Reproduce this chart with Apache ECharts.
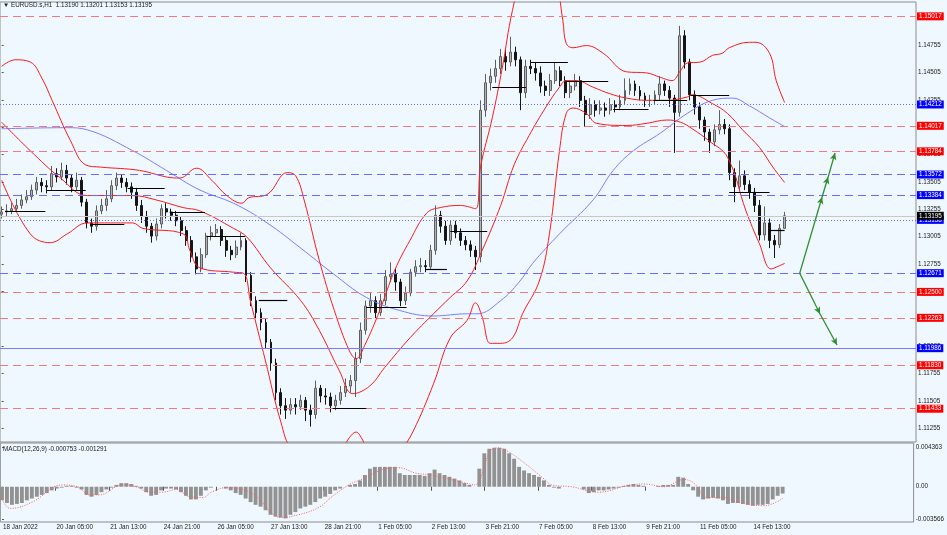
<!DOCTYPE html>
<html><head><meta charset="utf-8">
<script src="https://cdn.jsdelivr.net/npm/echarts@6/dist/echarts.min.js"></script>
<style>html,body{margin:0;padding:0;background:#f0f8ff;}#c{width:947px;height:535px;}</style>
</head><body><div id="c"></div>
<script>
// ---- x axis: hourly bar index, labels every 32 bars ----
const xTickLabels = ['18 Jan 2022','20 Jan 05:00','21 Jan 13:00','24 Jan 21:00','26 Jan 05:00','27 Jan 13:00','28 Jan 21:00','1 Feb 05:00','2 Feb 13:00','3 Feb 21:00','7 Feb 05:00','8 Feb 13:00','9 Feb 21:00','11 Feb 05:00','14 Feb 13:00'];
const yTickLabels = [1.14755,1.14505,1.14255,1.14005,1.13755,1.13505,1.13255,1.13005,1.12755,1.12505,1.12255,1.12005,1.11755,1.11505,1.11255];
const macdTickLabels = [0.004363, 0, -0.003566];
const lastHour = 466;          // hour index of last bar
const candleCount = 158;       // sampled candles (each ~3 hourly bars)

// ---- price candles (sampled) ----
const firstOpen = 1.1321;
const closes = [1.1323,1.1324,1.1326,1.1329,1.1334,1.1337,1.1343,1.1350,1.1347,1.1346,
 1.1358,1.1355,1.1361,1.1354,1.1346,1.1352,1.1332,1.1313,1.1310,1.1324,
 1.1329,1.1335,1.1347,1.1354,1.1350,1.1346,1.1341,1.1329,1.1319,1.1310,
 1.1301,1.1312,1.1326,1.1323,1.1320,1.1315,1.1306,1.1297,1.1282,1.1271,
 1.1284,1.1301,1.1304,1.1307,1.1297,1.1288,1.1284,1.1291,1.1297,1.1265,
 1.1242,1.1231,1.1222,1.1204,1.1185,1.1158,1.1146,1.1142,1.1147,1.1145,
 1.1151,1.1142,1.1138,1.1162,1.1155,1.1154,1.1146,1.1151,1.1158,1.1164,
 1.1169,1.1189,1.1215,1.1237,1.1242,1.1231,1.1242,1.1264,1.1266,1.1259,
 1.1242,1.1249,1.1268,1.1273,1.1274,1.1273,1.1288,1.1320,1.1310,1.1297,
 1.1311,1.1304,1.1297,1.1293,1.1288,1.1282,1.1416,1.1441,1.1447,1.1454,
 1.1465,1.1460,1.1469,1.1462,1.1432,1.1456,1.1454,1.1450,1.1438,1.1434,
 1.1443,1.1452,1.1443,1.1432,1.1438,1.1443,1.1425,1.1412,1.1421,1.1416,
 1.1418,1.1416,1.1421,1.1419,1.1425,1.1434,1.1440,1.1434,1.1429,1.1425,
 1.1425,1.1430,1.1440,1.1434,1.1427,1.1414,1.1484,1.1460,1.1430,1.1419,
 1.1407,1.1396,1.1387,1.1398,1.1403,1.1399,1.1359,1.1346,1.1356,1.1348,
 1.1341,1.1329,1.1302,1.1313,1.1297,1.1293,1.1308,1.13195];
const highs = [1.1328,1.1330,1.1331,1.1335,1.1339,1.1343,1.1348,1.1355,1.1354,1.1352,
 1.1365,1.1363,1.1368,1.1366,1.1357,1.1359,1.1355,1.1335,1.1317,1.1329,
 1.1335,1.1343,1.1352,1.1359,1.1357,1.1354,1.1350,1.1345,1.1334,1.1324,
 1.1313,1.1317,1.1330,1.1331,1.1326,1.1324,1.1319,1.1310,1.1301,1.1286,
 1.1290,1.1304,1.1310,1.1312,1.1310,1.1301,1.1292,1.1297,1.1304,1.1299,
 1.1268,1.1246,1.1235,1.1226,1.1207,1.1189,1.1162,1.1153,1.1153,1.1153,
 1.1156,1.1154,1.1147,1.1169,1.1165,1.1162,1.1158,1.1156,1.1164,1.1171,
 1.1174,1.1195,1.1222,1.1242,1.1249,1.1246,1.1248,1.1270,1.1277,1.1271,
 1.1262,1.1255,1.1271,1.1279,1.1281,1.1279,1.1293,1.1329,1.1324,1.1315,
 1.1315,1.1315,1.1308,1.1301,1.1297,1.1292,1.1425,1.1449,1.1454,1.1462,
 1.1472,1.1471,1.1483,1.1474,1.1465,1.1462,1.1462,1.1460,1.1456,1.1443,
 1.1449,1.1460,1.1456,1.1447,1.1443,1.1449,1.1447,1.1429,1.1427,1.1425,
 1.1425,1.1423,1.1427,1.1425,1.1430,1.1445,1.1445,1.1443,1.1438,1.1432,
 1.1430,1.1434,1.1447,1.1443,1.1438,1.1430,1.1493,1.1489,1.1463,1.1434,
 1.1423,1.1410,1.1399,1.1403,1.1416,1.1408,1.1403,1.1363,1.1370,1.1361,
 1.1352,1.1345,1.1334,1.1328,1.1317,1.1302,1.1312,1.1323];
const lows = [1.1317,1.1319,1.1321,1.1323,1.1326,1.1331,1.1334,1.1339,1.1341,1.1340,
 1.1343,1.1350,1.1352,1.1348,1.1341,1.1343,1.1328,1.1308,1.1304,1.1306,
 1.1321,1.1324,1.1332,1.1343,1.1345,1.1341,1.1335,1.1324,1.1313,1.1304,
 1.1295,1.1297,1.1308,1.1317,1.1315,1.1310,1.1301,1.1292,1.1277,1.1266,
 1.1268,1.1281,1.1297,1.1301,1.1292,1.1282,1.1279,1.1281,1.1288,1.1259,
 1.1237,1.1226,1.1215,1.1198,1.1178,1.1151,1.1138,1.1134,1.1138,1.1138,
 1.1142,1.1132,1.1127,1.1134,1.1149,1.1147,1.1140,1.1142,1.1147,1.1154,
 1.1158,1.1154,1.1185,1.1211,1.1231,1.1226,1.1228,1.1238,1.1259,1.1251,
 1.1237,1.1238,1.1246,1.1264,1.1268,1.1268,1.1270,1.1284,1.1304,1.1293,
 1.1293,1.1299,1.1292,1.1288,1.1282,1.1270,1.1277,1.1410,1.1434,1.1441,
 1.1449,1.1452,1.1456,1.1456,1.1416,1.1427,1.1449,1.1443,1.1432,1.1429,
 1.1429,1.1440,1.1438,1.1427,1.1427,1.1434,1.1419,1.1401,1.1408,1.1410,
 1.1412,1.1410,1.1412,1.1414,1.1416,1.1421,1.1430,1.1429,1.1425,1.1419,
 1.1419,1.1421,1.1425,1.1429,1.1419,1.1377,1.1410,1.1454,1.1425,1.1412,
 1.1399,1.1388,1.1377,1.1383,1.1394,1.1394,1.1352,1.1332,1.1343,1.1343,
 1.1335,1.1323,1.1297,1.1297,1.1290,1.1281,1.1290,1.1308];

// ---- indicators: [hour, price] ----
const bbUpper = [[0,1.1456],[8,1.1462],[17,1.1460],[24,1.1445],[30,1.1425],[41,1.1388],[50,1.1366],[59,1.1364],[82,1.1361],[98,1.1355],[106,1.1354],[116,1.1363],[125,1.1352],[134,1.1338],[143,1.1331],[147,1.1336],[158,1.1339],[170,1.1359],[175,1.1356],[180,1.1334],[189,1.1279],[198,1.1233],[207,1.1196],[211,1.1189],[216,1.1201],[225,1.1233],[234,1.1270],[243,1.1297],[253,1.1322],[261,1.1327],[273,1.1329],[282,1.1326],[285,1.1364],[292,1.1409],[298,1.1455],[304,1.1507],[311,1.1544],[320,1.1557],[329,1.1539],[334,1.1498],[336,1.1477],[340,1.1473],[348,1.1475],[358,1.1468],[372,1.1451],[384,1.1450],[392,1.1446],[399,1.1443],[404,1.1452],[408,1.1459],[416,1.1460],[423,1.1466],[429,1.1468],[433,1.1473],[445,1.1478],[449,1.1478],[457,1.1468],[461,1.1443],[466,1.1423]];
const bbMiddle = [[0,1.1405],[17,1.1379],[35,1.1354],[51,1.1338],[78,1.1338],[92,1.1334],[108,1.1327],[118,1.1324],[138,1.1308],[146,1.1300],[160,1.1272],[178,1.1242],[189,1.1215],[201,1.1178],[209,1.1157],[219,1.1164],[228,1.1181],[243,1.1208],[257,1.1230],[267,1.1245],[277,1.1260],[286,1.1288],[297,1.1329],[305,1.1366],[314,1.1393],[324,1.1419],[332,1.1437],[336,1.1443],[342,1.1443],[352,1.1437],[362,1.1431],[372,1.1427],[384,1.1425],[396,1.1425],[408,1.1428],[411,1.1430],[423,1.1422],[432,1.1413],[441,1.1398],[451,1.1382],[459,1.1364],[466,1.1350]];
const bbLower = [[0,1.1352],[17,1.1303],[29,1.1295],[39,1.1303],[51,1.1313],[78,1.1313],[84,1.1308],[108,1.1303],[112,1.1288],[118,1.1272],[138,1.1268],[144,1.1267],[148,1.1242],[157,1.1187],[166,1.1132],[173,1.1105],[189,1.1087],[201,1.1103],[207,1.1117],[211,1.1122],[214,1.1117],[220,1.1100],[231,1.1091],[237,1.1103],[245,1.1123],[257,1.1166],[267,1.1208],[277,1.1224],[282,1.1240],[286,1.1227],[291,1.1203],[297,1.1203],[304,1.1208],[310,1.1230],[320,1.1260],[326,1.1303],[332,1.1379],[336,1.1413],[340,1.1418],[348,1.1413],[354,1.1404],[372,1.1402],[384,1.1404],[396,1.1407],[404,1.1405],[411,1.1399],[421,1.1388],[432,1.1373],[443,1.1324],[451,1.1294],[458,1.1271],[463,1.1274],[466,1.1276]];
const maLine = [[0,1.1399],[39,1.1400],[51,1.1398],[78,1.1379],[98,1.1361],[118,1.1343],[138,1.1331],[158,1.1313],[178,1.1290],[197,1.1267],[217,1.1245],[237,1.1233],[257,1.1228],[277,1.1230],[283,1.1230],[297,1.1242],[308,1.1259],[316,1.1276],[332,1.1303],[352,1.1334],[364,1.1361],[376,1.1379],[392,1.1395],[408,1.1413],[423,1.1425],[435,1.1427],[445,1.1420],[457,1.1409],[466,1.1401]];

// ---- MACD ----
const macdHist = [-0.0015,-0.0018,-0.0020,-0.0019,-0.0018,-0.0015,-0.0013,-0.0011,-0.0009,-0.0007,
 -0.0004,-0.0002,-0.0001,0.0001,0.0001,-0.0001,-0.0003,-0.0009,-0.0011,-0.0009,
 -0.0006,-0.0003,-0.0001,0.0002,0.0004,0.0004,0.0003,0.0001,-0.0002,-0.0006,
 -0.0010,-0.0009,-0.0004,-0.0002,-0.0002,-0.0003,-0.0006,-0.0010,-0.0014,-0.0014,
 -0.0010,-0.0004,-0.0001,0.0000,0.0000,-0.0002,-0.0004,-0.0007,-0.0009,-0.0013,
 -0.0017,-0.0020,-0.0022,-0.0026,-0.0031,-0.0033,-0.0034,-0.0035,-0.0031,-0.0028,
 -0.0024,-0.0022,-0.0020,-0.0017,-0.0013,-0.0011,-0.0008,-0.0004,-0.0002,0.0000,
 0.0002,0.0003,0.0007,0.0013,0.0020,0.0022,0.0022,0.0022,0.0022,0.0022,
 0.0015,0.0013,0.0013,0.0013,0.0013,0.0012,0.0015,0.0019,0.0015,0.0013,
 0.0011,0.0009,0.0007,0.0004,0.0002,0.0000,0.0020,0.0037,0.0042,0.0043,
 0.0043,0.0042,0.0037,0.0031,0.0022,0.0018,0.0015,0.0013,0.0011,0.0007,
 0.0002,-0.0001,-0.0002,0.0000,0.0000,0.0000,0.0000,-0.0003,-0.0007,-0.0006,
 -0.0004,-0.0004,-0.0003,-0.0002,-0.0001,0.0001,0.0002,0.0003,0.0002,0.0001,
 0.0000,0.0000,0.0001,0.0002,0.0002,0.0002,0.0011,0.0010,0.0003,-0.0004,
 -0.0011,-0.0014,-0.0013,-0.0012,-0.0013,-0.0015,-0.0019,-0.0018,-0.0018,-0.0019,
 -0.0020,-0.0021,-0.0020,-0.0020,-0.0019,-0.0014,-0.0010,-0.00075];
const macdSignal = [[0,-0.0014],[5,-0.0024],[18,-0.0017],[36,0.0002],[45,0.0000],[52,-0.0009],[58,-0.0009],[72,0.0002],[80,0.0000],[88,-0.0006],[96,-0.0006],[104,-0.0003],[112,-0.0011],[120,-0.0012],[125,-0.0006],[134,-0.0001],[149,-0.0007],[167,-0.0034],[177,-0.0031],[189,-0.0023],[197,-0.0011],[207,0.0002],[217,0.0010],[227,0.0019],[237,0.0021],[247,0.0015],[256,0.0013],[277,0.0004],[282,0.0002],[292,0.0041],[296,0.0043],[302,0.0039],[312,0.0026],[324,0.0008],[328,0.0002],[340,0.0000],[356,-0.0006],[375,0.0002],[384,0.0003],[395,0.0000],[407,0.0008],[413,0.0004],[421,-0.0012],[431,-0.0012],[439,-0.0017],[455,-0.0021],[466,-0.00129]];

// ---- horizontal levels ----
const levelsRed = [1.15017,1.14017,1.13784,1.12500,1.12263,1.11830,1.11433];
const levelsBlueDashed = [1.13572,1.13384,1.12671];
const levelsBlueDotted = [1.14212,1.13158];
const levelsBlueSolid = [1.11986];
const currentPrice = 1.13195;
// pivot segments [startHour, endHour, price]
const pivotSegments = [[2,26,1.1324],[27,50,1.1343],[53,73,1.1312],[75,97,1.1345],[100,121,1.1323],[122,145,1.1301],[153,170,1.1242],[197,217,1.1144],[217,241,1.1236],[252,265,1.1271],[267,289,1.1305],[292,312,1.1437],[315,337,1.1460],[336,361,1.1442],[364,385,1.1417],[388,408,1.1425],[410,433,1.1430],[433,457,1.1341],[457,466,1.1306]];
// projection arrows [hour, price]
const arrowUp = [[475,1.12671],[488.3,1.13367],[491.9,1.13549],[496,1.13769]];
const arrowDown = [[475,1.12671],[487.1,1.12298],[497.2,1.12015]];

// ---------------- build ----------------
const HPC = lastHour / (candleCount - 1);
const candles = closes.map((c, i) => [i * HPC, i === 0 ? firstOpen : closes[i - 1], c, lows[i], highs[i]]);
const macdBars = macdHist.map((v, i) => [i * HPC, v]);

const FS = 6.3, FF = '"Liberation Sans", Arial, sans-serif';
function levelItem(v, lineColor, lineType, boxColor) {
  return { yAxis: v, lineStyle: { color: lineColor, type: lineType, width: 1 },
    label: { show: true, position: 'end', distance: 1, formatter: v.toFixed(5), color: '#fff',
      backgroundColor: boxColor, padding: [1, 2, 0, 2], fontSize: FS, fontFamily: FF, lineHeight: 7 } };
}
const markData = [];
levelsRed.forEach(v => markData.push(levelItem(v, '#f27a7a', [8, 5], '#ff0000')));
levelsBlueDashed.forEach(v => markData.push(levelItem(v, '#6a6aff', [8, 5], '#0000ff')));
levelsBlueDotted.forEach(v => markData.push(levelItem(v, '#6a6aff', [1, 2], '#0000ff')));
levelsBlueSolid.forEach(v => markData.push(levelItem(v, '#7a7aff', 'solid', '#0000ff')));
markData.push(levelItem(currentPrice, '#c8c8c8', 'solid', '#000000'));
pivotSegments.forEach(s => markData.push([
  { coord: [s[0], s[2]], symbol: 'none', lineStyle: { color: '#000', type: 'solid', width: 1.2 }, label: { show: false } },
  { coord: [s[1], s[2]], symbol: 'none' }]));
function arrows(pts) {
  for (let k = 1; k < pts.length; k++) {
    markData.push([
      { coord: pts[k - 1], symbol: 'none', lineStyle: { color: '#2f8f2f', type: 'solid', width: 1.3 }, label: { show: false } },
      { coord: pts[k], symbol: 'arrow', symbolSize: [5, 7] }]);
  }
}
arrows(arrowUp); arrows(arrowDown);

const xMin = -1, xMax = 544.2;
const chart = echarts.init(document.getElementById('c'), null, { renderer: 'canvas' });
chart.setOption({
  animation: false,
  backgroundColor: '#f0f8ff',
  textStyle: { fontFamily: FF },
  title: [
    { text: '▼ EURUSD.s,H1  1.13190 1.13201 1.13153 1.13195', left: 3, top: 2, padding: 0,
      textStyle: { fontSize: FS, fontWeight: 'normal', color: '#222', fontFamily: FF } },
    { text: 'MACD(12,26,9) -0.000753 -0.001291', left: 3, top: 446, padding: 0,
      textStyle: { fontSize: FS, fontWeight: 'normal', color: '#222', fontFamily: FF } }
  ],
  grid: [
    { left: 0, right: 31, top: 2, height: 440, show: true, borderColor: '#8c8c8c', borderWidth: 1, backgroundColor: 'transparent' },
    { left: 0, right: 31, top: 443, height: 79, show: true, borderColor: '#8c8c8c', borderWidth: 1, backgroundColor: 'transparent' }
  ],
  xAxis: [
    { type: 'value', gridIndex: 0, min: xMin, max: xMax, axisLine: { show: false }, axisTick: { show: false }, axisLabel: { show: false }, splitLine: { show: false } },
    { type: 'value', gridIndex: 1, min: xMin, max: xMax, axisLine: { show: false }, splitLine: { show: false },
      axisTick: { show: true, length: 4, lineStyle: { color: '#555' }, customValues: xTickLabels.map((_, k) => k * 32) },
      axisLabel: { show: true, customValues: xTickLabels.map((_, k) => k * 32), align: 'left', margin: 2, padding: [0, 0, 0, 1],
        fontSize: FS, color: '#222', fontFamily: FF, formatter: v => xTickLabels[Math.round(v / 32)] } }
  ],
  yAxis: [
    { type: 'value', gridIndex: 0, position: 'right', min: 1.11129, max: 1.15148, scale: true,
      axisLine: { show: false }, splitLine: { show: false },
      axisTick: { show: true, length: 2, lineStyle: { color: '#555' }, customValues: yTickLabels },
      axisLabel: { show: true, customValues: yTickLabels, margin: 2, fontSize: FS, color: '#222', fontFamily: FF, formatter: v => v.toFixed(5) } },
    { type: 'value', gridIndex: 1, position: 'right', min: -0.003898, max: 0.004838,
      axisLine: { show: false }, splitLine: { show: false },
      axisTick: { show: true, length: 2, lineStyle: { color: '#555' }, customValues: macdTickLabels },
      axisLabel: { show: true, customValues: macdTickLabels, margin: 2, fontSize: FS, color: '#222', fontFamily: FF,
        formatter: v => v === 0 ? '0.00' : v.toFixed(6) } }
  ],
  series: [
    { type: 'line', xAxisIndex: 0, yAxisIndex: 0, data: maLine, smooth: 0.4, showSymbol: false, silent: true,
      lineStyle: { color: '#7d7dff', width: 1 } },
    { type: 'line', xAxisIndex: 0, yAxisIndex: 0, data: bbUpper, smooth: 0.4, showSymbol: false, silent: true,
      lineStyle: { color: '#ff1a1a', width: 1 } },
    { type: 'line', xAxisIndex: 0, yAxisIndex: 0, data: bbMiddle, smooth: 0.4, showSymbol: false, silent: true,
      lineStyle: { color: '#ff1a1a', width: 1 } },
    { type: 'line', xAxisIndex: 0, yAxisIndex: 0, data: bbLower, smooth: 0.4, showSymbol: false, silent: true,
      lineStyle: { color: '#ff1a1a', width: 1 } },
    { type: 'candlestick', xAxisIndex: 0, yAxisIndex: 0, data: candles, encode: { x: 0, y: [1, 2, 3, 4] },
      barWidth: 2.4,
      itemStyle: { color: '#b4b4b4', color0: '#151515', borderColor: '#5e5e5e', borderColor0: '#151515', borderWidth: 1 },
      markLine: { silent: true, symbol: ['none', 'none'], animation: false, precision: 5, data: markData }
    },
    { type: 'bar', xAxisIndex: 1, yAxisIndex: 1, data: macdBars, barWidth: 3.9, silent: true,
      itemStyle: { color: '#929292' } },
    { type: 'line', xAxisIndex: 1, yAxisIndex: 1, data: macdSignal, smooth: 0.4, showSymbol: false, silent: true,
      lineStyle: { color: '#ff5a5a', width: 1, type: [1, 1.5] } }
  ]
});
</script></body></html>
